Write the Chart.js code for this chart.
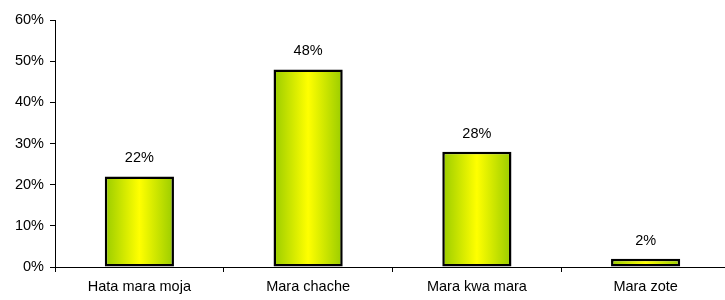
<!DOCTYPE html>
<html>
<head>
<meta charset="utf-8">
<script src="https://cdn.jsdelivr.net/npm/chart.js@4/dist/chart.umd.min.js"></script>
<style>
html,body{margin:0;padding:0;background:#fff;overflow:hidden;}
#wrap{width:730px;height:300px;position:relative;}
</style>
</head>
<body>
<div id="wrap"><canvas id="c"></canvas></div>
<script>
const categories = ["Hata mara moja", "Mara chache", "Mara kwa mara", "Mara zote"];
const values = [22, 48, 28, 2];
const yTicks = [0, 10, 20, 30, 40, 50, 60];

const FONT = "'Liberation Sans', Arial, sans-serif";
const FSIZE = 14.5;
const BAR_PCT = 0.41;

const labelPlugin = {
  id: 'valueLabels',
  afterDatasetsDraw(chart) {
    const ctx = chart.ctx;
    const meta = chart.getDatasetMeta(0);
    ctx.save();
    ctx.font = FSIZE + "px " + FONT;
    ctx.fillStyle = '#000';
    ctx.textAlign = 'center';
    ctx.textBaseline = 'alphabetic';
    meta.data.forEach((el, i) => {
      ctx.fillText(values[i] + '%', el.x, el.y - 14);
    });
    ctx.restore();
  }
};

function barGradient(context) {
  const chart = context.chart;
  const xs = chart.scales && chart.scales.x;
  if (!xs || !chart.chartArea) return '#ffff00';
  const c = xs.getPixelForValue(context.dataIndex);
  const w = (xs.width / categories.length) * BAR_PCT;
  const g = chart.ctx.createLinearGradient(c - w / 2, 0, c + w / 2, 0);
  g.addColorStop(0, '#99cc00');
  g.addColorStop(0.5, '#ffff00');
  g.addColorStop(1, '#99cc00');
  return g;
}

new Chart(document.getElementById('c'), {
  type: 'bar',
  data: {
    labels: categories,
    datasets: [{
      data: values,
      backgroundColor: barGradient,
      borderColor: '#000',
      borderWidth: 2.5,
      borderSkipped: false,
      categoryPercentage: 1,
      barPercentage: BAR_PCT
    }]
  },
  options: {
    responsive: true,
    maintainAspectRatio: false,
    animation: false,
    layout: { padding: { left: 0, top: 20, right: 0, bottom: 0 } },
    plugins: { legend: { display: false }, tooltip: { enabled: false } },
    scales: {
      y: {
        min: 0, max: 60,
        afterBuildTicks(scale) { scale.ticks = yTicks.map(v => ({ value: v })); },
        afterFit(scale) { scale.width = 55; },
        ticks: {
          callback: v => v + '%',
          color: '#000',
          font: { family: FONT, size: FSIZE },
          padding: 6
        },
        grid: { drawOnChartArea: false, drawTicks: true, tickLength: 5, color: '#000' },
        border: { display: true, color: '#000', width: 1 }
      },
      x: {
        afterFit(scale) { scale.height = 33; },
        ticks: {
          color: '#000',
          font: { family: FONT, size: FSIZE },
          padding: 6
        },
        grid: { offset: true, drawOnChartArea: false, drawTicks: true, tickLength: 5, color: '#000' },
        border: { display: true, color: '#000', width: 1 }
      }
    }
  },
  plugins: [labelPlugin]
});
</script>
</body>
</html>
